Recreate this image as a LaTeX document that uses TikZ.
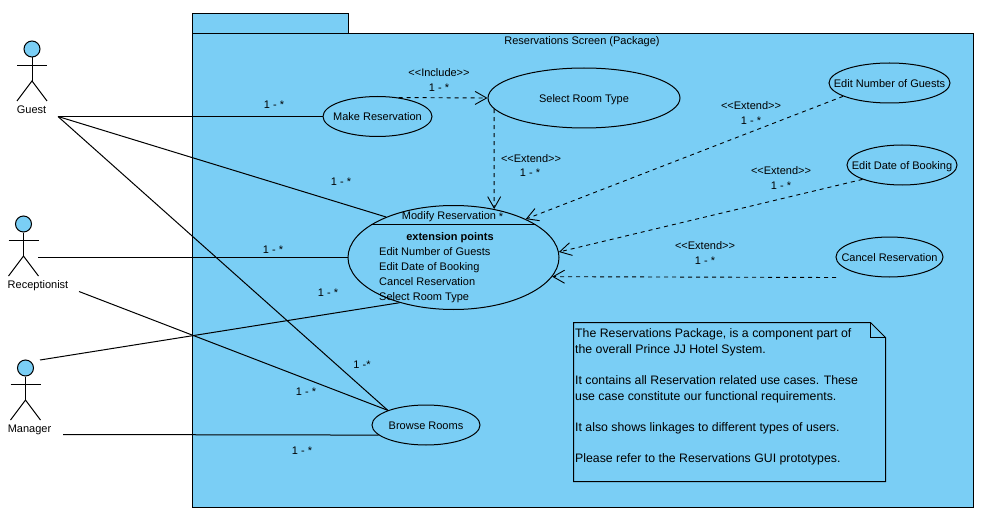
\documentclass[tikz,border=0pt]{standalone}
\usepackage{fontspec}
\setmainfont{Liberation Sans}
\usetikzlibrary{shapes.geometric,arrows.meta}
\definecolor{pkgblue}{RGB}{122,206,245}
\tikzset{
  usecase/.style={draw,ellipse,inner ysep=0pt,inner xsep=-30pt,line width=1pt,text height=11pt,text depth=2pt,font=\fontsize{11}{12}\selectfont},
  dep/.style={draw,dashed,dash pattern=on 4pt off 4pt,line width=0.9pt,-{Straight Barb[length=11.5pt,width=13pt,line width=0.9pt]}},
  assoc/.style={draw,line width=1pt},
  tag/.style={inner sep=0pt,text height=11pt,text depth=2pt,font=\fontsize{11}{12}\selectfont},
  stick/.style={draw,line width=1pt}
}
\begin{document}
\begin{tikzpicture}[x=1pt,y=-1pt]
      \useasboundingbox (0,0) rectangle (984,513);
      \fill[white] (0,0) rectangle (984,513);
      % package
      \draw[fill=pkgblue,line width=1pt] (192.5,13.5) rectangle (348.5,33.5);
      \draw[fill=pkgblue,line width=1pt] (192.5,33.5) rectangle (973.5,507.5);
      \node[tag] (pkgtitle) at (582,40) {Reservations Screen (Package)};
      % actors
      \foreach \name/\hx/\hy/\txt/\lx/\ly in {guest/32/49/Guest/31.5/109,recept/23.5/224/Receptionist/38/284,manager/25.5/368/Manager/29.5/428}{
        \node[draw,circle,fill=pkgblue,minimum size=16pt,inner sep=0pt,line width=1pt] (\name head) at (\hx,\hy) {};
        \coordinate (\name hip) at (\hx,\hy+32);
        \draw[stick] (\name head.south) -- (\name hip);
        \draw[stick] (\hx-15,\hy+16.5) -- (\hx+15,\hy+16.5);
        \draw[stick] (\hx-15,\hy+52) -- (\name hip) -- (\hx+15,\hy+52);
        \node[tag] (\name) at (\lx,\ly) {\txt};
      }
      \coordinate (guestend) at (58,116.5);
      \coordinate (receptA) at (38,257.5);
      \coordinate (receptB) at (79,291.5);
      \coordinate (managerA) at (40,360);
      \coordinate (managerB) at (63,434.5);
      \coordinate (cancelend) at (836,277.5);
      % use cases
      \node[usecase,minimum width=109pt,minimum height=40pt] (makeres) at (377.5,116.5) {Make Reservation};
      \node[usecase,minimum width=192pt,minimum height=60pt] (selroom) at (584,98) {Select Room Type};
      \node[usecase,minimum width=121pt,minimum height=40pt] (editnum) at (889.5,83) {Edit Number of Guests};
      \node[usecase,minimum width=110pt,minimum height=40pt] (editdate) at (902,165) {Edit Date of Booking};
      \node[usecase,minimum width=107pt,minimum height=40pt] (cancel) at (889.5,257) {Cancel Reservation};
      \node[usecase,minimum width=108pt,minimum height=40pt] (browse) at (426,425) {Browse Rooms};
      \node[usecase,minimum width=211pt,minimum height=104pt] (modify) at (453.5,257.5) {};
      \draw[line width=1pt] (modify.158) -- (modify.22);
      \node[tag] (modtitle) at (449,215) {Modify Reservation};
      \node[tag] (modstar) at (501,216) {*};
      \node[tag,font=\fontsize{11}{12}\bfseries] (modext) at (450,236) {extension points};
      \node[tag,anchor=west] (modA) at (379,251) {Edit Number of Guests};
      \node[tag,anchor=west] (modB) at (379,266) {Edit Date of Booking};
      \node[tag,anchor=west] (modC) at (379,281) {Cancel Reservation};
      \node[tag,anchor=west] (modD) at (379,296) {Select Room Type};
      % associations
      \draw[assoc] (guestend) -- (makeres.west);
      \draw[assoc] (guestend) -- (modify.149);
      \draw[assoc] (guestend) -- (browse.159.5);
      \draw[assoc] (receptA) -- (modify.west);
      \draw[assoc] (receptB) -- (browse.159.5);
      \draw[assoc] (managerA) -- (modify.220);
      \draw[assoc] (managerB) -- (browse.192.3);
      % dependencies
      \draw[dep] (makeres.42) -- (selroom.west);
      \draw[dep] (selroom.187.8) -- (modify.50.4);
      \draw[dep] (editnum.196.9) -- (modify.28.6);
      \draw[dep] (editdate.200) -- (modify.3.8);
      \draw[dep] (cancelend) -- (modify.-11.6);
      % labels
      \node[tag] (incl) at (439,72) {<{}<Include>{}>};
      \node[tag] (inclm) at (439,87) {1 - *};
      \node[tag] (extA) at (531,158) {<{}<Extend>{}>};
      \node[tag] (extAm) at (530,172) {1 - *};
      \node[tag] (extB) at (751,105) {<{}<Extend>{}>};
      \node[tag] (extBm) at (751,120) {1 - *};
      \node[tag] (extC) at (781,170) {<{}<Extend>{}>};
      \node[tag] (extCm) at (781,185) {1 - *};
      \node[tag] (extD) at (705,245) {<{}<Extend>{}>};
      \node[tag] (extDm) at (705,260) {1 - *};
      \node[tag] (mulA) at (274,104) {1 - *};
      \node[tag] (mulB) at (341,181) {1 - *};
      \node[tag] (mulC) at (273,249) {1 - *};
      \node[tag] (mulD) at (328,292) {1 - *};
      \node[tag] (mulE) at (362,364) {1 -*};
      \node[tag] (mulF) at (306,391) {1 - *};
      \node[tag] (mulG) at (302,450) {1 - *};
      % note
      \draw[line width=1pt] (573.5,322.5) -- (870.5,322.5) -- (885.5,337.5) -- (885.5,481.5) -- (573.5,481.5) -- cycle;
      \draw[line width=1pt] (870.5,322.5) -- (870.5,337.5) -- (885.5,337.5);
      \node[anchor=north west,inner sep=0pt,align=left,font=\fontsize{12.3}{15.6}\selectfont] (notetext) at (575,328.5) {The Reservations Package, is a component part of\\the overall Prince JJ Hotel System.\\[15.6pt]It contains all Reservation related use cases. These\\use case constitute our functional requirements.\\[15.6pt]It also shows linkages to different types of users.\\[15.6pt]Please refer to the Reservations GUI prototypes.};
    \end{tikzpicture}
\end{document}
